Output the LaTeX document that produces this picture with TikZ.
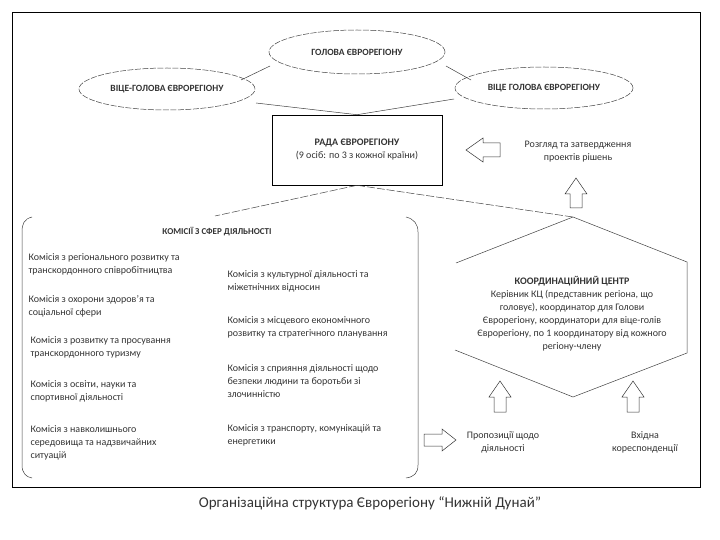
\documentclass[tikz,border=0pt]{standalone}
\usepackage{fontspec}
\setmainfont{Carlito}
\usetikzlibrary{shapes.geometric}
\begin{document}
\begin{tikzpicture}[x=1pt,y=-1pt,
  ln/.style={draw=black!75,line width=0.5pt},
  ell/.style={ellipse,ln,dashed,dash pattern=on 6pt off 1.5pt,inner sep=0pt},
  txt/.style={font=\fontsize{10}{13}\selectfont,align=left,anchor=west,text=black!80},
  ctxt/.style={font=\fontsize{10}{13}\selectfont,align=center,text=black!80},
  hol/.style={draw=black!80,line width=0.5pt,fill=white}]
\useasboundingbox (0,0) rectangle (720,540);
\draw[line width=0.7pt] (12,12) rectangle (700,487);
% ellipses
\node[ell,minimum width=176pt,minimum height=44pt] (gol) at (357,52) {};
\node[ctxt,font=\bfseries\fontsize{9.5}{11}\selectfont] at (357,52) {ГОЛОВА ЄВРОРЕГІОНУ};
\node[ell,minimum width=176pt,minimum height=42pt] (vl) at (167,89) {};
\node[ctxt,font=\bfseries\fontsize{9.5}{11}\selectfont] at (167,89) {ВІЦЕ-ГОЛОВА ЄВРОРЕГІОНУ};
\node[ell,minimum width=178pt,minimum height=42pt] (vr) at (544,88) {};
\node[ctxt,font=\bfseries\fontsize{9.5}{11}\selectfont] at (544,88) {ВІЦЕ ГОЛОВА ЄВРОРЕГІОНУ};
% rada
\node[draw,line width=0.6pt,minimum width=170pt,minimum height=70pt,ctxt] (rada) at (357,150)
  {\textbf{РАДА ЄВРОРЕГІОНУ}\\(9 осіб: по 3 з кожної країни)};
\coordinate (vlp) at (241,80); \coordinate (glp) at (270,66);
\coordinate (grp) at (446,66); \coordinate (vrp) at (471,80);
\coordinate (vlb) at (256,103); \coordinate (vrb) at (454,99);
\draw[ln] (vlp) -- (glp); \draw[ln] (grp) -- (vrp);
\draw[ln] (vlb) -- (rada.north); \draw[ln] (vrb) -- (rada.north);
% hexagon
\coordinate (ht) at (573,217); \coordinate (hb) at (573,397);
\draw[ln] (456,263) -- (ht) -- (687,262) -- (687,353) -- (hb) -- (455,350);
\coordinate (cmt) at (215,216);
\draw[ln,dashed,dash pattern=on 8pt off 2pt] (rada.south) -- (cmt);
\draw[ln,dashed,dash pattern=on 8pt off 2pt] (rada.south) -- (ht);
\node[ctxt] (kc) at (572,314) {\textbf{КООРДИНАЦІЙНИЙ ЦЕНТР}\\Керівник КЦ (представник регіона, що\\головує), координатор для Голови\\Єврорегіону, координатори для віце-голів\\Єврорегіону, по 1 координатору від кожного\\регіону-члену};
% review text and arrows
\node[ctxt] (rev) at (578,152) {Розгляд та затвердження\\проектів рішень};
\draw[hol] (500,143)--(483,143)--(483,138)--(466,150)--(483,162)--(483,157)--(500,157)--cycle;
\draw[hol] (570,208)--(570,194)--(565,194)--(576,178)--(587,194)--(582,194)--(582,208)--cycle;
\draw[hol] (494,412)--(494,397)--(489,397)--(500,381)--(511,397)--(506,397)--(506,412)--cycle;
\draw[hol] (627,412)--(627,397)--(622,397)--(633,381)--(644,397)--(639,397)--(639,412)--cycle;
\draw[hol] (424,434)--(442,434)--(442,429)--(456,440)--(442,451)--(442,446)--(424,446)--cycle;
\node[ctxt] (pr) at (503,442) {Пропозиції щодо\\діяльності};
\node[ctxt] (vh) at (645,442) {Вхідна\\кореспонденції};
% commissions bracket
\draw[ln] (32,217) .. controls (24,219) and (22,224) .. (22,232) -- (22,465) .. controls (22,473) and (26,477) .. (32,478);
\draw[ln] (406,217) .. controls (414,219) and (418,224) .. (418,232) -- (418,465) .. controls (418,473) and (414,477) .. (406,478);
\node[ctxt,font=\bfseries\fontsize{9}{11}\selectfont] at (217,232) {КОМІСІЇ З СФЕР ДІЯЛЬНОСТІ};
\node[txt] at (25,264) {Комісія з регіонального розвитку та\\транскордонного співробітництва};
\node[txt] at (25,306) {Комісія з охорони здоров'я та\\соціальної сфери};
\node[txt] at (27,347) {Комісія з розвитку та просування\\транскордонного туризму};
\node[txt] at (27,391) {Комісія з освіти, науки та\\спортивної діяльності};
\node[txt] at (27,443) {Комісія з навколишнього\\середовища та надзвичайних\\ситуацій};
\node[txt] at (224,281) {Комісія з культурної діяльності та\\міжетнічних відносин};
\node[txt] at (224,327) {Комісія з місцевого економічного\\розвитку та стратегічного планування};
\node[txt] at (224,381) {Комісія з сприяння діяльності щодо\\безпеки людини та боротьби зі\\злочинністю};
\node[txt] at (224,435) {Комісія з транспорту, комунікацій та\\енергетики};
\node[ctxt,font=\fontsize{15}{17}\selectfont] (cap) at (370,503) {Організаційна структура Єврорегіону “Нижній Дунай”};
\end{tikzpicture}
\end{document}
